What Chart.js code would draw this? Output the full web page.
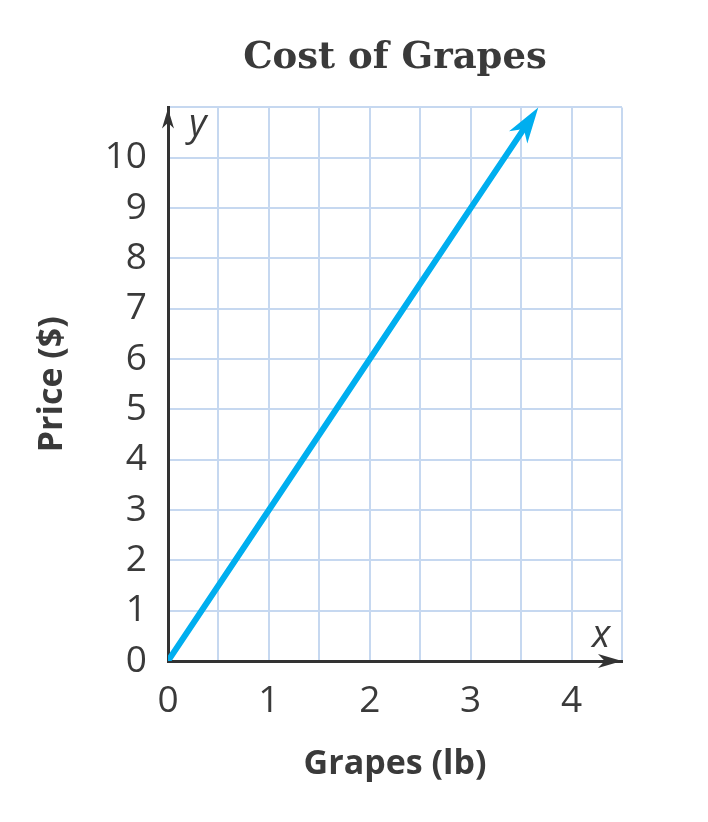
<!DOCTYPE html>
<html>
<head>
<meta charset="utf-8">
<script src="https://cdn.jsdelivr.net/npm/chart.js@4.4.0/dist/chart.umd.min.js"></script>
<style>
html, body { margin: 0; padding: 0; background: #ffffff; }
#chart_layout { width: 708px; height: 822px; }
</style>
</head>
<body>
<div id="chart_layout"><canvas id="chart_layout_graphic"></canvas></div>
<script>
/*
    data
*/
var grapes_lb = [0, 1, 2, 3, 3.67];
var price_usd = [0, 3, 6, 9, 11];
var x_tick_labels = ['0', '1', '2', '3', '4'];
var y_tick_labels = ['0', '1', '2', '3', '4', '5', '6', '7', '8', '9', '10'];
var chart_title = 'Cost of Grapes';
var x_title = 'Grapes (lb)';
var y_title = 'Price ($)';
var x_axis_letter = 'x';
var y_axis_letter = 'y';

var text_color = '#3a3a3a';
var grid_color = '#c6d8f0';
var axis_color = '#333333';
var line_color = '#00aeef';

function fnc_get_points(xs, ys){
    var points = [];
    for(i in xs){
        points.push({x: xs[i], y: ys[i]});
    }
    return points;
}

function fnc_tick_label(labels, value){
    if(Number.isInteger(value) && labels[value] != undefined){
        return labels[value];
    }
    return '';
}

// barbed arrow head, tip at (x, y) pointing along angle
function fnc_arrow_head(ctx, x, y, angle, len, half, color){
    ctx.save();
    ctx.translate(x, y);
    ctx.rotate(angle);
    ctx.beginPath();
    ctx.moveTo(0, 0);
    ctx.lineTo(-len, -half);
    ctx.lineTo(-len * 0.72, 0);
    ctx.lineTo(-len, half);
    ctx.closePath();
    ctx.fillStyle = color;
    ctx.fill();
    ctx.restore();
}

function fnc_line_angle(chart){
    var meta = chart.getDatasetMeta(0).data;
    var a = meta[meta.length - 2], b = meta[meta.length - 1];
    return {tip: b, angle: Math.atan2(b.y - a.y, b.x - a.x)};
}

var arrows_plugin = {
    id: 'arrows',
    beforeDatasetsDraw: function(chart){
        // keep the line end hidden under its arrow head
        var ctx = chart.ctx;
        var end = fnc_line_angle(chart);
        ctx.save();
        ctx.beginPath();
        ctx.rect(0, 0, chart.width, chart.height);
        ctx.save();
        ctx.translate(end.tip.x, end.tip.y);
        ctx.rotate(end.angle);
        ctx.rect(-14, -6, 30, 12);
        ctx.restore();
        ctx.clip('evenodd');
    },
    afterDatasetsDraw: function(chart){
        var ctx = chart.ctx;
        ctx.restore();
        var area = chart.chartArea;
        var sx = chart.scales.x, sy = chart.scales.y;
        var x0 = sx.getPixelForValue(0), y0 = sy.getPixelForValue(0);

        fnc_arrow_head(ctx, x0, area.top + 1, -Math.PI / 2, 20, 6, axis_color);
        fnc_arrow_head(ctx, area.right, y0, 0, 24, 7, axis_color);

        var end = fnc_line_angle(chart);
        fnc_arrow_head(ctx, end.tip.x, end.tip.y, end.angle, 36, 11, line_color);

        ctx.save();
        ctx.fillStyle = text_color;
        ctx.font = 'italic 38px "Open Sans"';
        ctx.textBaseline = 'alphabetic';
        ctx.textAlign = 'left';
        ctx.fillText(y_axis_letter, x0 + 21, area.top + 29);
        ctx.textAlign = 'center';
        ctx.fillText(x_axis_letter, area.right - 21, y0 - 14);
        ctx.restore();
    }
};

var options = {
    responsive: true,
    maintainAspectRatio: false,
    animation: false,
    layout: { padding: { left: 0, right: 86, top: 0, bottom: 0 } },
    plugins: {
        legend: { display: false },
        tooltip: { enabled: false },
        title: {
            display: true,
            text: chart_title,
            fullSize: false,
            color: text_color,
            font: { family: '"DejaVu Serif"', size: 37, weight: 'bold', lineHeight: 1.2 },
            padding: { top: 36, bottom: 27 }
        }
    },
    scales: {
        x: {
            type: 'linear',
            min: 0,
            max: 4.5,
            afterFit: function(scale){ scale.height = 161; },
            grid: { color: grid_color, lineWidth: 2, drawTicks: false },
            border: { display: true, color: axis_color, width: 3 },
            ticks: {
                stepSize: 0.5,
                autoSkip: false,
                maxRotation: 0,
                padding: 18,
                color: text_color,
                font: { family: '"Open Sans"', size: 37, lineHeight: 1.2 },
                callback: function(value){ return fnc_tick_label(x_tick_labels, value); }
            },
            title: {
                display: true,
                text: x_title,
                color: text_color,
                font: { family: '"Open Sans"', size: 34, weight: 'bold', lineHeight: 1.2 },
                padding: { top: 0, bottom: 37 }
            }
        },
        y: {
            type: 'linear',
            min: 0,
            max: 11,
            afterFit: function(scale){ scale.width = 168; },
            grid: { color: grid_color, lineWidth: 2, drawTicks: false },
            border: { display: true, color: axis_color, width: 3 },
            ticks: {
                stepSize: 1,
                autoSkip: false,
                padding: 21,
                color: text_color,
                font: { family: '"Open Sans"', size: 37, lineHeight: 1.2 },
                callback: function(value){ return fnc_tick_label(y_tick_labels, value); }
            },
            title: {
                display: true,
                text: y_title,
                color: text_color,
                font: { family: '"Open Sans"', size: 34, weight: 'bold', lineHeight: 1.2 },
                padding: { top: 32, bottom: 0 }
            }
        }
    }
};

var chart = new Chart(document.getElementById('chart_layout_graphic'), {
    type: 'line',
    data: {
        datasets: [{
            data: fnc_get_points(grapes_lb, price_usd),
            borderColor: line_color,
            borderWidth: 6,
            borderCapStyle: 'butt',
            pointRadius: 0,
            tension: 0,
            fill: false
        }]
    },
    options: options,
    plugins: [arrows_plugin]
});
</script>
</body>
</html>
